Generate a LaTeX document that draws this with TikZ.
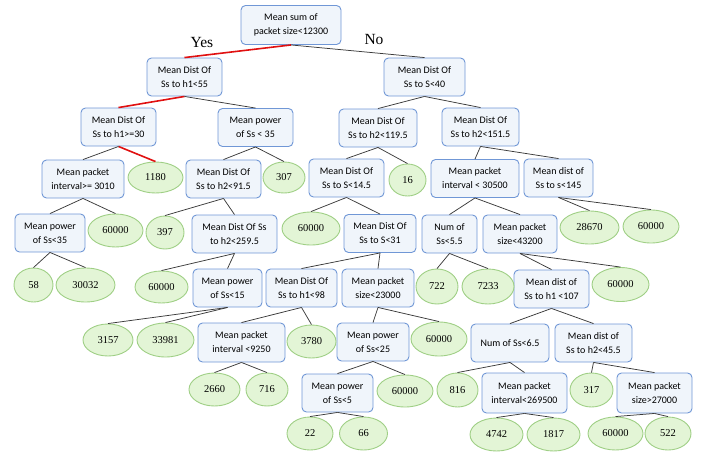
\documentclass[tikz,border=0pt]{standalone}
\usepackage{fontspec}
\setmainfont{Liberation Serif}
\newfontfamily\carlito{Carlito}
\usetikzlibrary{shapes.geometric}
\definecolor{boxfill}{HTML}{F0F5FB}
\definecolor{boxline}{HTML}{7097D6}
\definecolor{leaffill}{HTML}{E3F5D6}
\definecolor{leafline}{HTML}{9FCF85}
\definecolor{edgecol}{HTML}{3A3A3A}
\definecolor{redcol}{HTML}{E01010}
\tikzset{
  box/.style={draw=boxline, fill=boxfill, rounded corners=4.5pt, line width=0.9pt,
    align=center, inner sep=1pt, minimum height=38pt,
    font=\carlito\fontsize{10}{14}\selectfont},
  leaf/.style={ellipse, draw=leafline, fill=leaffill, line width=0.9pt, inner sep=0pt,
    font=\fontsize{10.5}{12}\selectfont},
  edge/.style={draw=edgecol, line width=0.75pt},
  redge/.style={draw=redcol, line width=1.6pt},
  lab/.style={font=\fontsize{15.5}{18}\selectfont, inner sep=0pt}
}
\newcommand{\lf}[5]{\node[leaf, minimum width=#3pt, minimum height=#4pt] (#1) at (#2) {#5};}
\begin{document}
\begin{tikzpicture}[x=1pt,y=-1pt]
\useasboundingbox (0,0) rectangle (701,453);
% boxes
\node[box, minimum width=100pt, minimum height=39pt] (R) at (291,25) {Mean sum of\\packet size<12300};
\node[box, minimum width=75pt] (A1) at (184.5,77) {Mean Dist Of\\Ss to h1<55};
\node[box, minimum width=81pt] (B1) at (424.5,77) {Mean Dist Of\\Ss to S<40};
\node[box, minimum width=75pt] (A2) at (118.5,127) {Mean Dist Of\\Ss to h1>=30};
\node[box, minimum width=75pt] (A3) at (255.5,127.5) {Mean power\\of Ss < 35};
\node[box, minimum width=78pt] (B2) at (378,128) {Mean Dist Of\\Ss to h2<119.5};
\node[box, minimum width=77pt] (B3) at (480.5,127) {Mean Dist Of\\Ss to h2<151.5};
\node[box, minimum width=82pt] (A4) at (83,179) {Mean packet\\interval>= 3010};
\node[box, minimum width=75pt] (A5) at (223.5,179) {Mean Dist Of\\Ss to h2<91.5};
\node[box, minimum width=75pt] (B4) at (346.5,178) {Mean Dist Of\\Ss to S<14.5};
\node[box, minimum width=88pt] (B5) at (475,178.5) {Mean packet\\interval < 30500};
\node[box, minimum width=69pt] (B6) at (558.5,178) {Mean dist of\\Ss to s<145};
\node[box, minimum width=70pt] (A6) at (50,233) {Mean power\\of Ss<35};
\node[box, minimum width=85pt] (A7) at (234.5,234) {Mean Dist Of Ss\\to h2<259.5};
\node[box, minimum width=72pt] (B7) at (380,233.5) {Mean Dist Of\\Ss to S<31};
\node[box, minimum width=55pt] (B8) at (449.5,234) {Num of\\Ss<5.5};
\node[box, minimum width=74pt] (B9) at (520,234) {Mean packet\\size<43200};
\node[box, minimum width=69pt] (A8) at (227.5,288) {Mean power\\of Ss<15};
\node[box, minimum width=71pt] (A9) at (301.5,288) {Mean Dist Of\\Ss to h1<98};
\node[box, minimum width=72pt] (B10) at (378,288) {Mean packet\\size<23000};
\node[box, minimum width=75pt] (B11) at (551.5,289) {Mean dist of\\Ss to h1 <107};
\node[box, minimum width=87pt, minimum height=39pt] (A10) at (241.5,342.5) {Mean packet\\interval <9250};
\node[box, minimum width=72pt] (B12) at (373,342) {Mean power\\of Ss<25};
\node[box, minimum width=78pt] (B13) at (510,343) {Num of Ss<6.5};
\node[box, minimum width=77pt] (B14) at (593.5,343) {Mean dist of\\Ss to h2<45.5};
\node[box, minimum width=71pt] (B15) at (337.5,393) {Mean power\\of Ss<5};
\node[box, minimum width=85pt, minimum height=40pt] (B16) at (524.5,393) {Mean packet\\interval<269500};
\node[box, minimum width=75pt, minimum height=40pt] (B17) at (654.5,393) {Mean packet\\size>27000};
% leaves
\lf{L1180}{155.5,177.5}{55}{31}{1180}
\lf{L307}{284,177.5}{42}{31}{307}
\lf{L16}{407.5,180}{37}{32}{16}
\lf{LA4}{115.5,230.5}{55}{33}{60000}
\lf{L397}{165,232.5}{38}{33}{397}
\lf{LB4}{311,228.5}{58}{33}{60000}
\lf{L28670}{589.5,227.5}{59}{33}{28670}
\lf{LB6}{651,226.5}{56}{33}{60000}
\lf{L58}{33.5,285}{39}{34}{58}
\lf{L30032}{85.5,285}{59}{34}{30032}
\lf{LA7}{161.5,287}{53}{32}{60000}
\lf{L722}{437,286.5}{42}{35}{722}
\lf{L7233}{488,286.5}{52}{35}{7233}
\lf{LB9}{620.5,284.5}{57}{34}{60000}
\lf{L3157}{108,340}{50}{32}{3157}
\lf{L33981}{165.5,340}{57}{34}{33981}
\lf{L3780}{311.5,341.5}{49}{33}{3780}
\lf{LB10}{439,339}{56}{34}{60000}
\lf{L2660}{214.5,389.5}{51}{33}{2660}
\lf{L716}{267,389.5}{42}{33}{716}
\lf{LB12}{405,391}{56}{32}{60000}
\lf{L816}{457.5,390}{41}{34}{816}
\lf{L317}{591.5,390}{43}{34}{317}
\lf{L22}{310,433.5}{46}{33}{22}
\lf{L66}{363.5,433.5}{48}{33}{66}
\lf{L4742}{496.5,434.5}{53}{33}{4742}
\lf{L1817}{553.5,434.5}{53}{33}{1817}
\lf{LB17}{615.5,433.5}{55}{33}{60000}
\lf{L522}{668,433.5}{46}{33}{522}
% labels
\node[lab] (yes) at (202,42) {Yes};
\node[lab] (no) at (374,39) {No};
% red edges
\draw[redge] (R.south) -- (A1.north);
\draw[redge] (A1.south) -- (A2.north);
\draw[redge] (A2.south) -- (L1180.north);
% black edges
\foreach \p/\c in {R/B1, A1/A3, A2/A4, A3/A5, A3/L307, B1/B2, B1/B3, B2/B4, B2/L16,
  B3/B5, B3/B6, A4/A6, A4/LA4, A5/L397, A5/A7, B4/LB4, B4/B7, B5/B8, B5/B9,
  B6/L28670, B6/LB6, A6/L58, A6/L30032, A7/LA7, A7/A8, B7/A9, B7/B10,
  B8/L722, B8/L7233, B9/B11, B9/LB9, A8/L3157, A8/L33981, A9/A10, A9/L3780,
  B10/B12, B10/LB10, B11/B13, B11/B14, A10/L2660, A10/L716, B12/B15, B12/LB12,
  B13/L816, B13/B16, B14/L317, B14/B17, B15/L22, B15/L66, B16/L4742, B16/L1817,
  B17/LB17, B17/L522}
  \draw[edge] (\p.south) -- (\c.north);
\end{tikzpicture}
\end{document}
